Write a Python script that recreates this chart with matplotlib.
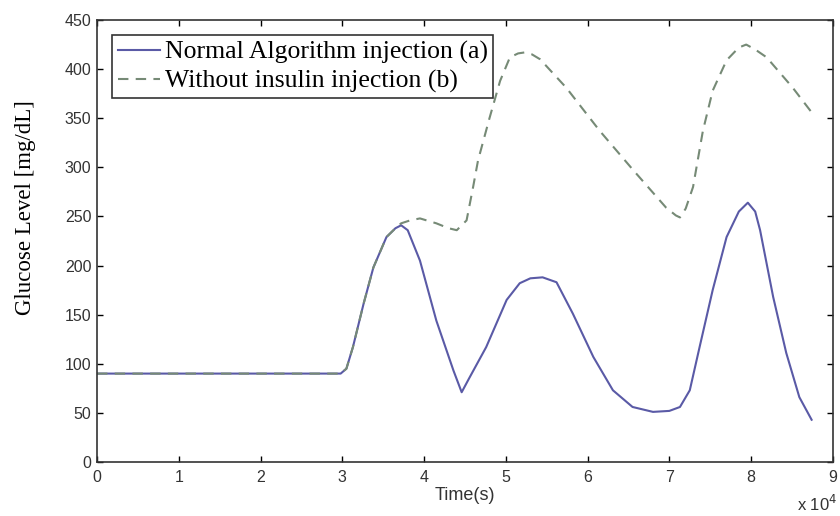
import matplotlib.pyplot as plt

# time in units of 10^4 s, glucose in mg/dL
time_a = [0, 2.98, 3.05, 3.13, 3.26, 3.38, 3.54, 3.65, 3.72, 3.80, 3.95, 4.15, 4.36,
          4.46, 4.55, 4.76, 5.01, 5.17, 5.30, 5.45, 5.62, 5.82, 6.07, 6.31, 6.55, 6.80,
          7.00, 7.13, 7.25, 7.37, 7.53, 7.70, 7.85, 7.96, 8.05, 8.11, 8.27, 8.43, 8.59, 8.74]
glucose_a = [90, 90, 95, 117, 161, 198, 229, 238, 241, 236, 205, 144, 93,
             71, 85, 117, 165, 182, 187, 188, 183, 151, 107, 73, 56, 51,
             52, 56, 73, 117, 175, 229, 255, 264, 255, 236, 168, 111, 66, 43]

time_b = [0, 2.98, 3.05, 3.13, 3.26, 3.38, 3.54, 3.65, 3.72, 3.83, 3.95, 4.15, 4.30,
          4.40, 4.52, 4.60, 4.66, 4.80, 4.93, 5.05, 5.15, 5.23, 5.32, 5.42, 5.74, 6.15,
          6.56, 6.96, 7.08, 7.13, 7.20, 7.29, 7.41, 7.53, 7.70, 7.85, 7.94, 8.05, 8.19,
          8.51, 8.74]
glucose_b = [90, 90, 95, 117, 161, 198, 229, 238, 243, 246, 248, 243, 238,
             236, 246, 280, 307, 350, 388, 412, 416, 417, 415, 410, 381, 337,
             297, 259, 251, 249, 258, 280, 337, 378, 409, 422, 425, 420, 412,
             381, 356]

label_a = "Normal Algorithm injection (a)"
label_b = "Without insulin injection (b)"
xticks = list(range(0, 10))
yticks = list(range(0, 451, 50))

fig = plt.figure(figsize=(8.4, 5.16), dpi=100)
ax = fig.add_axes([0.1155, 0.1047, 0.876, 0.8565])

ax.plot(time_a, glucose_a, color="#5a5aa6", lw=1.5, label=label_a)
ax.plot(time_b, glucose_b, color="#768a76", lw=1.5, ls=(0, (5, 3.5)), label=label_b)

ax.set_xlim(0, 9)
ax.set_ylim(0, 450)
ax.set_xticks(xticks)
ax.set_yticks(yticks)
ax.tick_params(direction="in", top=True, right=True, length=4, width=1,
               labelsize=11.5, labelcolor="#333333")
ax.tick_params(axis="x", pad=6)
ax.tick_params(axis="y", pad=4)
for lab in ax.get_xticklabels() + ax.get_yticklabels():
    lab.set_family("Liberation Sans")
for sp in ax.spines.values():
    sp.set_linewidth(1.2)
    sp.set_color("#333333")

ax.set_xlabel("Time(s)", family="Liberation Sans", fontsize=13, color="#333333", labelpad=1)
ax.set_ylabel("Glucose Level [mg/dL]", family="Liberation Serif", fontsize=16.5)
ax.yaxis.set_label_coords(-0.083, 0.575)
fig.text(0.997, 0.004, r"x 10$^4$", ha="right", va="bottom",
         family="Liberation Sans", fontsize=12, color="#333333")

leg = ax.legend(loc="upper left", prop={"family": "Liberation Serif", "size": 18.5},
                frameon=True, fancybox=False, edgecolor="black", handlelength=1.65,
                handletextpad=0.2, borderpad=0.2, labelspacing=0.22,
                borderaxespad=0.6)
leg.get_frame().set_linewidth(1.2)

plt.savefig("out.png", dpi=100)
